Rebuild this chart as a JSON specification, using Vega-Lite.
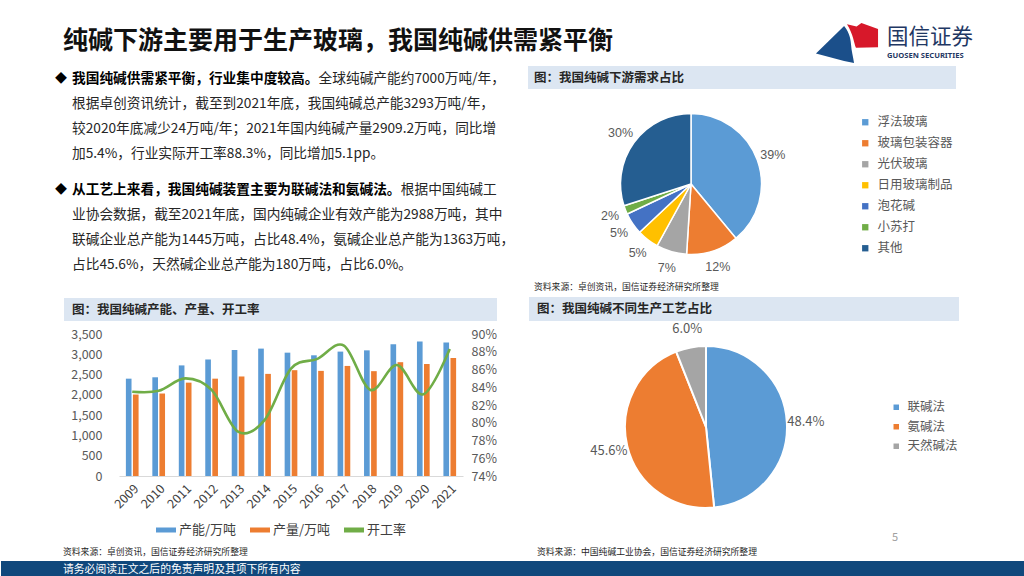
{
  "$schema": "https://vega.github.io/schema/vega-lite/v6.json",
  "padding": 0,
  "background": "#ffffff",
  "spacing": 0,
  "bounds": "flush",
  "columns": 3,
  "align": "each",
  "resolve": {"scale": {"color": "independent"}, "legend": {"color": "independent"}},
  "config": {
    "view": {"stroke": null},
    "font": "Noto Sans CJK SC",
    "axis": {"labelFont": "Noto Sans CJK SC"},
    "legend": {"labelFont": "Noto Sans CJK SC", "padding": 0}
  },
  "concat": [
    {
      "width": 1,
      "height": 60,
      "layer": [
        {"data": {"values": [{"t": "纯碱下游主要用于生产玻璃，我国纯碱供需紧平衡"}]},
         "mark": {"type": "text", "x": 62, "y": 40, "align": "left", "baseline": "middle", "fontSize": 25, "fontWeight": "bold", "color": "#111111"},
         "encoding": {"text": {"field": "t"}}},
        {"data": {"values": [{}]},
         "mark": {"type": "rule", "x": 57, "x2": 805, "y": 57.5, "color": "#1F4E79", "strokeWidth": 3.5},
         "encoding": {}},
        {"data": {"values": [{}]},
         "mark": {"type": "point", "x": 846, "y": 43, "size": 4096, "filled": true, "opacity": 1, "strokeWidth": 0, "color": "#1B4F8A",
                  "shape": "M-0.97,0.30 L-0.09,-0.56 C0.02,-0.42 0.11,-0.25 0.125,0.01 C0.14,0.22 0.19,0.40 0.22,0.59 L-0.09,0.53 Z"}},
        {"data": {"values": [{}]},
         "mark": {"type": "point", "x": 846, "y": 43, "size": 4096, "filled": true, "opacity": 1, "strokeWidth": 0, "color": "#D7182A",
                  "shape": "M0.0,-0.62 L0.30,-0.55 L0.45,-0.66 L0.97,-0.47 L0.97,0.10 L0.28,0.12 C0.22,-0.02 0.20,-0.30 0.0,-0.62 Z"}},
        {"data": {"values": [{"t": "国信证券"}]},
         "mark": {"type": "text", "x": 886, "y": 37, "align": "left", "baseline": "middle", "fontSize": 21.5, "color": "#1F3864"},
         "encoding": {"text": {"field": "t"}}},
        {"data": {"values": [{"t": "GUOSEN SECURITIES"}]},
         "mark": {"type": "text", "x": 886, "y": 55, "align": "left", "baseline": "middle", "fontSize": 7.6, "fontWeight": "bold", "font": "Noto Sans", "color": "#1F3864"},
         "encoding": {"text": {"field": "t"}}},
        {"data": {"values": [{}]},
         "mark": {"type": "rect", "x": 527, "x2": 955, "y": 65, "y2": 88, "color": "#DCE6F2"}},
        {"data": {"values": [{}]},
         "mark": {"type": "rect", "x": 63, "x2": 496, "y": 297, "y2": 320, "color": "#DCE6F2"}},
        {"data": {"values": [{}]},
         "mark": {"type": "rect", "x": 528, "x2": 958, "y": 296, "y2": 320, "color": "#DCE6F2"}},
        {"data": {"values": [{"t": "图：我国纯碱下游需求占比"}]},
         "mark": {"type": "text", "x": 533, "y": 77, "align": "left", "baseline": "middle", "fontSize": 12.5, "fontWeight": "bold", "color": "#262626"},
         "encoding": {"text": {"field": "t"}}},
        {"data": {"values": [{"t": "图：我国纯碱产能、产量、开工率"}]},
         "mark": {"type": "text", "x": 71, "y": 309, "align": "left", "baseline": "middle", "fontSize": 12.5, "fontWeight": "bold", "color": "#262626"},
         "encoding": {"text": {"field": "t"}}},
        {"data": {"values": [{"t": "图：我国纯碱不同生产工艺占比"}]},
         "mark": {"type": "text", "x": 536, "y": 308, "align": "left", "baseline": "middle", "fontSize": 12.5, "fontWeight": "bold", "color": "#262626"},
         "encoding": {"text": {"field": "t"}}},
        {"data": {"values": [{"t": "资料来源：卓创资讯，国信证券经济研究所整理"}]},
         "mark": {"type": "text", "x": 533, "y": 286, "align": "left", "baseline": "middle", "fontSize": 8.8, "color": "#262626"},
         "encoding": {"text": {"field": "t"}}},
        {"data": {"values": [{"t": "资料来源：卓创资讯，国信证券经济研究所整理"}]},
         "mark": {"type": "text", "x": 62, "y": 551, "align": "left", "baseline": "middle", "fontSize": 8.8, "color": "#262626"},
         "encoding": {"text": {"field": "t"}}},
        {"data": {"values": [{"t": "资料来源：中国纯碱工业协会，国信证券经济研究所整理"}]},
         "mark": {"type": "text", "x": 536, "y": 551, "align": "left", "baseline": "middle", "fontSize": 8.8, "color": "#262626"},
         "encoding": {"text": {"field": "t"}}},
        {"data": {"values": [{"t": "5"}]},
         "mark": {"type": "text", "x": 894, "y": 537, "align": "center", "baseline": "middle", "fontSize": 11, "color": "#A0A0A0"},
         "encoding": {"text": {"field": "t"}}},
        {"data": {"values": [{}]},
         "mark": {"type": "rect", "x": 0, "x2": 1024, "y": 560, "y2": 576, "color": "#10487C"}},
        {"data": {"values": [{"t": "请务必阅读正文之后的免责声明及其项下所有内容"}]},
         "mark": {"type": "text", "x": 62, "y": 568.5, "align": "left", "baseline": "middle", "fontSize": 10.8, "color": "#ffffff"},
         "encoding": {"text": {"field": "t"}}}
      ]
    },
    {"width": 1, "height": 1, "data": {"values": []}, "mark": "point"},
    {"width": 1, "height": 1, "data": {"values": []}, "mark": "point"},
    {
      "width": 118,
      "height": 273,
      "layer": [
        {
          "data": {"values": [
            {"line": 1, "bold": "我国纯碱供需紧平衡，行业集中度较高。", "text": "全球纯碱产能约7000万吨/年，"},
            {"line": 2, "bold": "", "text": "根据卓创资讯统计，截至到2021年底，我国纯碱总产能3293万吨/年，"},
            {"line": 3, "bold": "", "text": "较2020年底减少24万吨/年；2021年国内纯碱产量2909.2万吨，同比增"},
            {"line": 4, "bold": "", "text": "加5.4%，行业实际开工率88.3%，同比增加5.1pp。"}
          ]},
          "encoding": {"y": {"field": "line", "type": "ordinal", "scale": {"type": "point", "padding": 0, "range": [18, 93]}, "axis": null}},
          "layer": [
            {"transform": [{"filter": "datum.line != 1"}], "mark": {"type": "text", "x": 71, "align": "left", "baseline": "middle", "fontSize": 13.7, "color": "#262626"}, "encoding": {"text": {"field": "text"}}},
            {"transform": [{"filter": "datum.line == 1"}], "mark": {"type": "text", "x": 71, "align": "left", "baseline": "middle", "fontSize": 13.7, "fontWeight": "bold", "color": "#000000"}, "encoding": {"text": {"field": "bold"}}},
            {"transform": [{"filter": "datum.line == 1"}], "mark": {"type": "text", "x": 317.6, "align": "left", "baseline": "middle", "fontSize": 13.7, "color": "#262626"}, "encoding": {"text": {"field": "text"}}},
            {"transform": [{"filter": "datum.line == 1"}], "mark": {"type": "text", "x": 60, "align": "center", "baseline": "middle", "fontSize": 12, "text": "◆", "color": "#000000"}}
          ]
        },
        {
          "data": {"values": [
            {"line": 1, "bold": "从工艺上来看，我国纯碱装置主要为联碱法和氨碱法。", "text": "根据中国纯碱工"},
            {"line": 2, "bold": "", "text": "业协会数据，截至2021年底，国内纯碱企业有效产能为2988万吨，其中"},
            {"line": 3, "bold": "", "text": "联碱企业总产能为1445万吨，占比48.4%，氨碱企业总产能为1363万吨，"},
            {"line": 4, "bold": "", "text": "占比45.6%，天然碱企业总产能为180万吨，占比6.0%。"}
          ]},
          "encoding": {"y": {"field": "line", "type": "ordinal", "scale": {"type": "point", "padding": 0, "range": [129, 204]}, "axis": null}},
          "layer": [
            {"transform": [{"filter": "datum.line != 1"}], "mark": {"type": "text", "x": 71, "align": "left", "baseline": "middle", "fontSize": 13.7, "color": "#262626"}, "encoding": {"text": {"field": "text"}}},
            {"transform": [{"filter": "datum.line == 1"}], "mark": {"type": "text", "x": 71, "align": "left", "baseline": "middle", "fontSize": 13.7, "fontWeight": "bold", "color": "#000000"}, "encoding": {"text": {"field": "bold"}}},
            {"transform": [{"filter": "datum.line == 1"}], "mark": {"type": "text", "x": 399.8, "align": "left", "baseline": "middle", "fontSize": 13.7, "color": "#262626"}, "encoding": {"text": {"field": "text"}}},
            {"transform": [{"filter": "datum.line == 1"}], "mark": {"type": "text", "x": 60, "align": "center", "baseline": "middle", "fontSize": 12, "text": "◆", "color": "#000000"}}
          ]
        }
      ],
      "resolve": {"scale": {"y": "independent"}}
    },
    {"width": 1, "height": 1, "data": {"values": []}, "mark": "point"},
    {
      "width": 456,
      "height": 246,
      "data": {"values": [
        {"cat": "浮法玻璃", "share": 0.39, "o": 1},
        {"cat": "玻璃包装容器", "share": 0.12, "o": 2},
        {"cat": "光伏玻璃", "share": 0.07, "o": 3},
        {"cat": "日用玻璃制品", "share": 0.05, "o": 4},
        {"cat": "泡花碱", "share": 0.05, "o": 5},
        {"cat": "小苏打", "share": 0.02, "o": 6},
        {"cat": "其他", "share": 0.30, "o": 7}
      ]},
      "encoding": {
        "theta": {"field": "share", "type": "quantitative", "stack": true},
        "order": {"field": "o", "type": "quantitative"},
        "color": {"field": "cat", "type": "nominal",
          "scale": {"domain": ["浮法玻璃", "玻璃包装容器", "光伏玻璃", "日用玻璃制品", "泡花碱", "小苏打", "其他"],
                    "range": ["#5B9BD5", "#ED7D31", "#A5A5A5", "#FFC000", "#4472C4", "#70AD47", "#255E91"]},
          "legend": {"orient": "none", "legendX": 396, "legendY": 55, "title": null, "labelFontSize": 12.5, "labelColor": "#595959",
                     "symbolType": "square", "symbolSize": 40, "symbolStrokeWidth": 0, "rowPadding": 8, "labelOffset": 6}}
      },
      "layer": [
        {"mark": {"type": "arc", "outerRadius": 70.5, "stroke": "#ffffff", "strokeWidth": 1.5}},
        {"mark": {"type": "text", "radius": 87, "fontSize": 12.5, "font": "Liberation Sans"},
         "encoding": {"text": {"field": "share", "type": "quantitative", "format": ".0%"}, "color": {"value": "#595959"}}}
      ]
    },
    {"width": 118, "height": 1, "data": {"values": []}, "mark": "point"},
    {
      "width": 344,
      "height": 142,
      "data": {"values": [
        {"year": "2009", "cap": 2399, "prod": 2008, "rate": 0.835},
        {"year": "2010", "cap": 2433, "prod": 2033, "rate": 0.836},
        {"year": "2011", "cap": 2726, "prod": 2301, "rate": 0.850},
        {"year": "2012", "cap": 2872, "prod": 2399, "rate": 0.837},
        {"year": "2013", "cap": 3105, "prod": 2453, "rate": 0.790},
        {"year": "2014", "cap": 3140, "prod": 2517, "rate": 0.803},
        {"year": "2015", "cap": 3040, "prod": 2608, "rate": 0.861},
        {"year": "2016", "cap": 2975, "prod": 2591, "rate": 0.872},
        {"year": "2017", "cap": 3066, "prod": 2713, "rate": 0.887},
        {"year": "2018", "cap": 3097, "prod": 2584, "rate": 0.837},
        {"year": "2019", "cap": 3250, "prod": 2805, "rate": 0.865},
        {"year": "2020", "cap": 3317, "prod": 2760, "rate": 0.832},
        {"year": "2021", "cap": 3293, "prod": 2909, "rate": 0.883}
      ]},
      "layer": [
        {
          "transform": [{"fold": ["cap", "prod"], "as": ["key", "value"]}],
          "mark": {"type": "bar"},
          "encoding": {
            "x": {"field": "year", "type": "ordinal", "scale": {"paddingInner": 0.52, "paddingOuter": 0.26},
                  "axis": {"title": null, "labelAngle": -45, "ticks": false, "domainColor": "#D9D9D9", "labelFontSize": 12.5, "labelColor": "#404040", "labelPadding": 6}},
            "xOffset": {"field": "key", "scale": {"domain": ["cap", "prod"], "paddingInner": 0.2}},
            "y": {"field": "value", "type": "quantitative", "scale": {"domain": [0, 3500]},
                  "axis": {"title": null, "values": [0, 500, 1000, 1500, 2000, 2500, 3000, 3500], "format": ",.0f", "ticks": false, "domain": false, "grid": false,
                           "labelFontSize": 12.5, "labelColor": "#595959", "labelPadding": 17}},
            "color": {"field": "key", "type": "nominal",
              "scale": {"domain": ["cap", "prod", "rate"], "range": ["#5B9BD5", "#ED7D31", "#70AD47"]},
              "legend": {"orient": "none", "legendX": 37, "legendY": 186, "direction": "horizontal", "title": null,
                         "labelFontSize": 13, "labelColor": "#404040", "symbolType": "M-1,-0.25L1,-0.25L1,0.25L-1,0.25Z", "symbolSize": 400,
                         "symbolStrokeWidth": 0, "columnPadding": 13, "labelOffset": 3,
                         "labelExpr": "datum.label == 'cap' ? '产能/万吨' : datum.label == 'prod' ? '产量/万吨' : '开工率'"}}
          }
        },
        {
          "mark": {"type": "line", "interpolate": "cardinal", "strokeWidth": 2.6},
          "encoding": {
            "x": {"field": "year", "type": "ordinal"},
            "y": {"field": "rate", "type": "quantitative", "scale": {"domain": [0.74, 0.90]},
                  "axis": {"orient": "right", "title": null, "values": [0.74, 0.76, 0.78, 0.80, 0.82, 0.84, 0.86, 0.88, 0.90], "format": ".0%",
                           "ticks": false, "domain": false, "grid": false, "labelFontSize": 12.5, "labelColor": "#595959", "labelPadding": 8}},
            "color": {"datum": "rate"}
          }
        }
      ],
      "resolve": {"scale": {"y": "independent"}}
    },
    {
      "width": 486,
      "height": 186,
      "data": {"values": [
        {"cat": "联碱法", "share": 0.484, "o": 1},
        {"cat": "氨碱法", "share": 0.456, "o": 2},
        {"cat": "天然碱法", "share": 0.060, "o": 3}
      ]},
      "encoding": {
        "theta": {"field": "share", "type": "quantitative", "stack": true},
        "order": {"field": "o", "type": "quantitative"},
        "color": {"field": "cat", "type": "nominal",
          "scale": {"domain": ["联碱法", "氨碱法", "天然碱法"], "range": ["#5B9BD5", "#ED7D31", "#A5A5A5"]},
          "legend": {"orient": "none", "legendX": 427, "legendY": 67, "title": null, "labelFontSize": 12.5, "labelColor": "#595959",
                     "symbolType": "square", "symbolSize": 30, "symbolStrokeWidth": 0, "rowPadding": 6.5, "labelOffset": 5}}
      },
      "layer": [
        {"mark": {"type": "arc", "outerRadius": 81, "stroke": "#ffffff", "strokeWidth": 2}},
        {"mark": {"type": "text", "radius": 100, "fontSize": 13},
         "encoding": {"text": {"field": "share", "type": "quantitative", "format": ".1%"}, "color": {"value": "#595959"}}}
      ]
    }
  ]
}
